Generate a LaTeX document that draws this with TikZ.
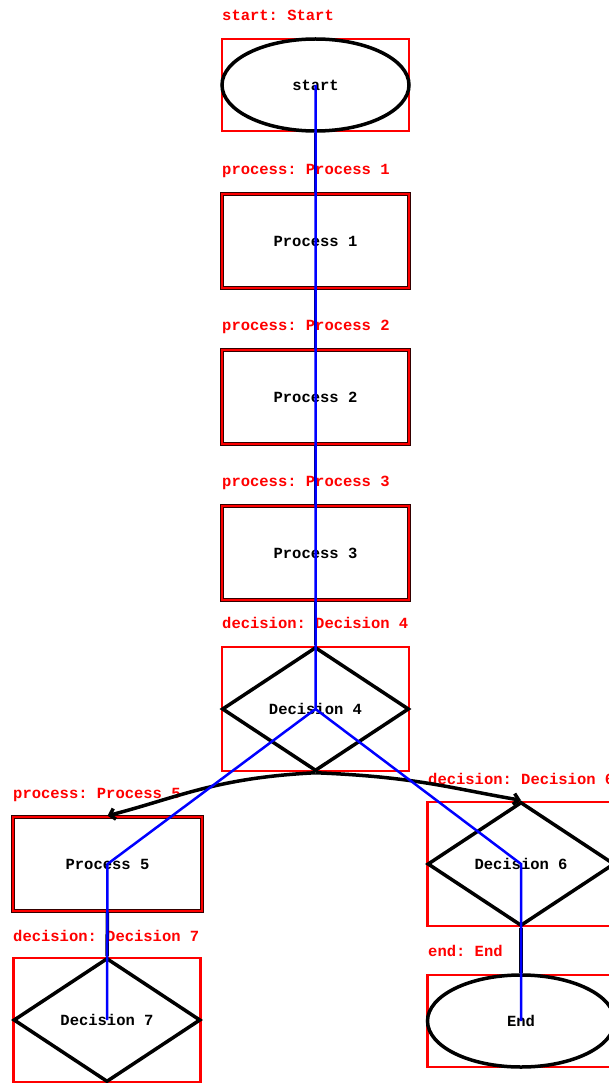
\documentclass[tikz,border=0pt]{standalone}
\usepackage{fontspec}
\setmonofont{Liberation Mono}
\usetikzlibrary{shapes.geometric,arrows.meta}

\begin{document}
\begin{tikzpicture}[x=1pt,y=-1pt,
  mono/.style={font=\ttfamily\bfseries\fontsize{15.5}{15.5}\selectfont},
  lbl/.style={mono, anchor=west, text=red, inner sep=0},
  term/.style={ellipse, draw=black, line width=3.5pt, minimum width=187pt, minimum height=92pt, inner sep=0, mono},
  proc/.style={rectangle, draw=red, line width=2.6pt, minimum width=187pt, minimum height=94pt, mono,
               preaction={draw=black!80!red, line width=4pt, rounded corners=2pt}},
  dec/.style={diamond, draw=black, line width=3.5pt, minimum width=187pt, minimum height=124pt, inner sep=0, mono},
  frame/.style={rectangle, draw=red, line width=2.2pt, inner sep=0},
  link/.style={draw=black, line width=3.5pt},
  branch/.style={link, -{Straight Barb[length=5pt,width=11pt]}},
  trace/.style={draw=blue, line width=2.5pt},
]
\useasboundingbox (0,0) rectangle (608,1083);

% red frames behind the terminal and decision shapes
\node[frame, minimum width=187pt, minimum height=92pt]  (startframe) at (315.5,85) {};
\node[frame, minimum width=187pt, minimum height=124pt] (d4frame) at (315.5,709) {};
\node[frame, minimum width=187pt, minimum height=124pt] (d6frame) at (521,864) {};
\node[frame, minimum width=187pt, minimum height=124pt] (d7frame) at (107,1020) {};
\node[frame, minimum width=187pt, minimum height=92pt]  (endframe) at (521,1021) {};

% shapes
\node[term] (start) at (315.5,85) {start};
\node[proc] (p1) at (315.5,241) {Process 1};
\node[proc] (p2) at (315.5,397) {Process 2};
\node[proc] (p3) at (315.5,553) {Process 3};
\node[dec]  (d4) at (315.5,709) {Decision 4};
\node[proc, minimum width=189pt] (p5) at (107.5,864) {Process 5};
\node[dec]  (d6) at (521,864) {Decision 6};
\node[dec]  (d7) at (107,1020) {Decision 7};
\node[term] (end) at (521,1021) {End};

% type labels
\node[lbl] (lstart) at (222,15)  {start: Start};
\node[lbl] (lp1)    at (222,171) {process: Process 1};
\node[lbl] (lp2)    at (222,327) {process: Process 2};
\node[lbl] (lp3)    at (222,483) {process: Process 3};
\node[lbl] (ld4)    at (222,623) {decision: Decision 4};
\node[lbl] (lp5)    at (13,795)  {process: Process 5};
\node[lbl] (ld6)    at (428,779) {decision: Decision 6};
\node[lbl] (ld7)    at (13,936)  {decision: Decision 7};
\node[lbl] (lend)   at (428,951) {end: End};

% connectors
\draw[link] (start.south) -- (p1.north);
\draw[link] (p1.south) -- (p2.north);
\draw[link] (p2.south) -- (p3.north);
\draw[link] (p3.south) -- (d4.north);
\draw[branch] (d4.south) .. controls +(-100,5) and +(70,-18) .. (p5.north);
\draw[branch] (d4.south) .. controls +(100,4) and +(-70,-12) .. (d6.north);
\draw[link] (p5.south) -- (d7.north);
\draw[link] (d6.south) -- (end.north);

% centre-to-centre trace
\draw[trace] (start.center) -- (d4.center) -- (p5.center) -- (d7.center);
\draw[trace] (d4.center) -- (d6.center) -- (end.center);
\end{tikzpicture}
\end{document}
